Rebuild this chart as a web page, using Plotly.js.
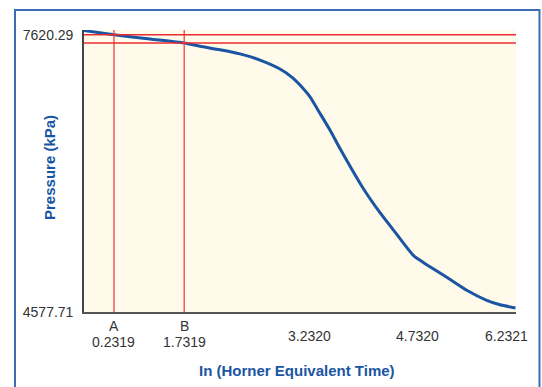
<!DOCTYPE html>
<html>
<head>
<meta charset="utf-8">
<script src="https://cdn.plot.ly/plotly-3.0.1.min.js"></script>
<style>
  html, body { margin: 0; padding: 0; background: #ffffff; }
  #chart { width: 542px; height: 387px; }
</style>
</head>
<body>
<div id="chart"></div>
<script>
// ---- data (x in relative plot units 0..100, pressure in kPa) ----
const curveX = [0, 6.94, 15.28, 23.15, 26.85, 31.48, 36.11, 40.74, 45.37, 48.38, 50.0, 52.31, 54.63, 56.94, 59.26, 64.65, 68.52, 72.38, 76.23, 78.47, 83.96, 88.59, 93.22, 96.30, 99.88];
const pressure = [7666, 7620.29, 7573, 7529, 7493, 7455, 7410, 7342, 7244, 7145, 7068, 6939, 6757, 6574, 6372, 5933, 5667, 5431, 5200, 5124, 4959, 4816, 4706, 4657, 4622];

const tickPos = [6.94, 23.2, 52.3, 77.1, 97.9];
const tickText = ['0.2319', '1.7319', '3.2320', '4.7320', '6.2321'];
const tickLetter = ['A', 'B', '', '', ''];

const markerX = [6.94, 23.2];          // A, B
const markerP = [7620.29, 7529];       // pressure at A, B

const yTickVals = [4577.71, 7620.29];
const yTickText = ['4577.71', '7620.29'];

const xTitle = 'In (Horner Equivalent Time)';
const yTitle = 'Pressure (kPa)';

// ---- styles ----
const FONT = 'Liberation Sans, Arial, Helvetica, sans-serif';
const BLUE = '#1a55a3';
const RED = '#ec2b30';

const shapes = [];
markerX.forEach(x => shapes.push({
  type: 'line', xref: 'x', yref: 'paper', x0: x, x1: x, y0: 0, y1: 1,
  line: { color: '#ef4f52', width: 1.4 }, layer: 'above'
}));
markerP.forEach(p => shapes.push({
  type: 'line', xref: 'paper', yref: 'y', x0: 0, x1: 1, y0: p, y1: p,
  line: { color: RED, width: 1.5 }, layer: 'above'
}));
// outer frame
shapes.push({
  type: 'rect', xref: 'paper', yref: 'paper',
  x0: -0.1597, x1: 1.0544, y0: -0.30, y1: 1.0709,
  line: { color: '#3d6db5', width: 2 }, fillcolor: 'rgba(0,0,0,0)', layer: 'above'
});

const tickFont = { family: FONT, size: 14, color: '#333333' };
const titleFont = { family: FONT, size: 15, color: BLUE, weight: 'bold' };

const annotations = [];
tickPos.forEach((x, i) => {
  const twoLine = tickLetter[i] !== '';
  if (twoLine) {
    annotations.push({
      x: x, xref: 'x', y: 0, yref: 'paper', text: tickLetter[i],
      showarrow: false, xanchor: 'center', yanchor: 'middle', yshift: -14,
      font: tickFont
    });
  }
  annotations.push({
    x: x, xref: 'x', y: 0, yref: 'paper', text: tickText[i],
    showarrow: false, xanchor: 'center', yanchor: 'middle', yshift: twoLine ? -30 : -24,
    font: tickFont
  });
});
annotations.push({
  x: 0.4942, xref: 'paper', y: 0, yref: 'paper', text: xTitle,
  showarrow: false, xanchor: 'center', yanchor: 'middle', yshift: -58,
  font: titleFont
});
annotations.push({
  x: -0.0799, xref: 'paper', y: 0.5124, yref: 'paper', text: yTitle,
  showarrow: false, xanchor: 'center', yanchor: 'middle', textangle: -90,
  font: titleFont
});

const traces = [{
  x: curveX, y: pressure, type: 'scatter', mode: 'lines',
  line: { color: BLUE, width: 3, shape: 'spline', smoothing: 0.6 },
  hoverinfo: 'skip'
}];

const layout = {
  width: 542, height: 387,
  margin: { l: 84, r: 26, t: 30, b: 75 },
  paper_bgcolor: '#ffffff',
  plot_bgcolor: '#fffae9',
  showlegend: false,
  font: { family: FONT, color: '#333333' },
  xaxis: {
    range: [0, 100], showgrid: false, zeroline: false,
    showline: true, linecolor: '#555555', linewidth: 1.8,
    showticklabels: false, ticks: ''
  },
  yaxis: {
    range: [4577.71, 7672], showgrid: false, zeroline: false,
    showline: true, linecolor: '#444444', linewidth: 1.8,
    tickvals: yTickVals, ticktext: yTickText, ticks: '',
    ticklabelstandoff: 6,
    tickfont: tickFont
  },
  shapes: shapes,
  annotations: annotations
};

Plotly.newPlot('chart', traces, layout, { displayModeBar: false, staticPlot: true });
</script>
</body>
</html>
